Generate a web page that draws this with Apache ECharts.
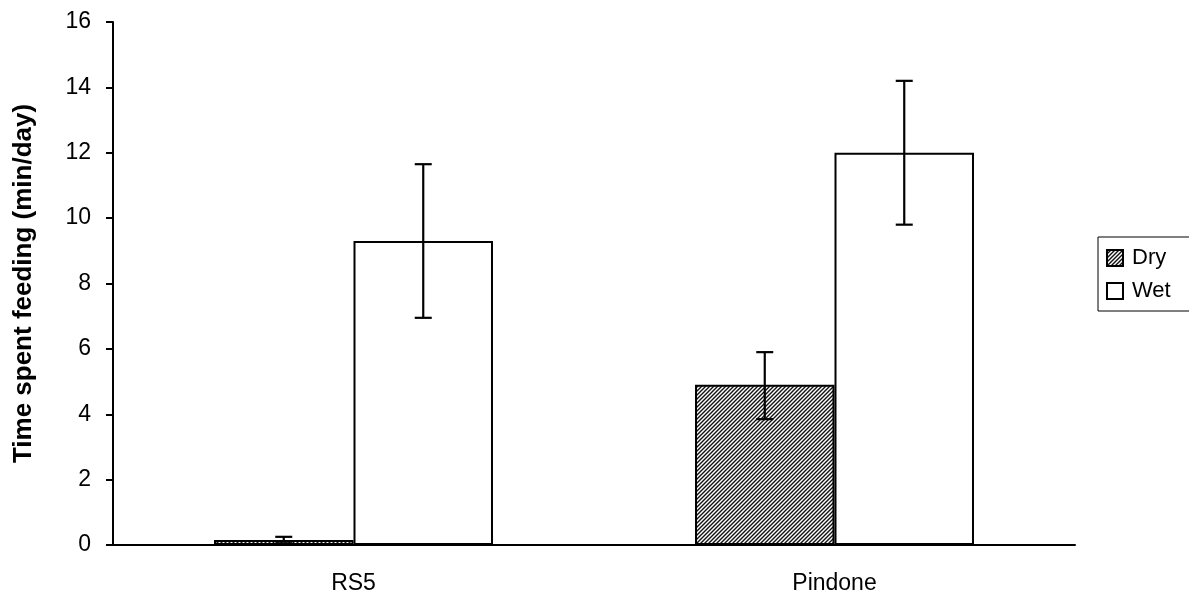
<!DOCTYPE html>
<html><head><meta charset="utf-8">
<script src="https://cdn.jsdelivr.net/npm/echarts@6/dist/echarts.min.js"></script>
<style>html,body{margin:0;padding:0;background:#fff}#c{width:1189px;height:598px}</style>
</head><body><div id="c"></div>
<script>
const categories = ['RS5', 'Pindone'];
const dryValues = [0.15, 4.9];
const wetValues = [9.3, 12.0];
const dryErrLow = [0.1, 3.85];
const dryErrHigh = [0.25, 5.9];
const wetErrLow = [6.95, 9.8];
const wetErrHigh = [11.65, 14.2];
const yTicks = [0, 2, 4, 6, 8, 10, 12, 14, 16];

const pc = document.createElement('canvas');
pc.width = 4; pc.height = 4;
const g = pc.getContext('2d');
g.fillStyle = '#fff'; g.fillRect(0, 0, 4, 4);
g.strokeStyle = '#111'; g.lineWidth = 1.4;
g.beginPath();
g.moveTo(-1, 5); g.lineTo(5, -1);
g.moveTo(-1, 1); g.lineTo(1, -1);
g.moveTo(3, 5); g.lineTo(5, 3);
g.stroke();
const hatch = { image: pc, repeat: 'repeat' };

const CAT_GAP = 0.42;
function errSeries(low, high, side) {
  return {
    type: 'custom',
    z: 10,
    data: categories.map((c, i) => [i, low[i], high[i]]),
    renderItem: function (params, api) {
      const catW = api.size([1, 0])[0];
      const bw = catW * (1 - CAT_GAP) / 2;
      const i = api.value(0);
      const p1 = api.coord([i, api.value(1)]);
      const p2 = api.coord([i, api.value(2)]);
      const x = p1[0] + side * bw / 2;
      const cap = 8.5;
      const st = { stroke: '#000', lineWidth: 2.2 };
      return { type: 'group', children: [
        { type: 'line', shape: { x1: x, y1: p1[1], x2: x, y2: p2[1] }, style: st },
        { type: 'line', shape: { x1: x - cap, y1: p1[1], x2: x + cap, y2: p1[1] }, style: st },
        { type: 'line', shape: { x1: x - cap, y1: p2[1], x2: x + cap, y2: p2[1] }, style: st }
      ]};
    },
    tooltip: { show: false }
  };
}

const FONT = 'Liberation Sans, Arial, sans-serif';
const chart = echarts.init(document.getElementById('c'));
chart.setOption({
  animation: false,
  textStyle: { fontFamily: FONT },
  grid: { left: 113, right: 114, top: 22, bottom: 53 },
  legend: {
    orient: 'vertical', left: 1098, top: 237,
    data: ['Dry', 'Wet'],
    itemWidth: 16, itemHeight: 16, itemGap: 11,
    icon: 'rect',
    borderColor: '#000', borderWidth: 1,
    padding: [10, 40, 9, 8],
    textStyle: { fontSize: 22, color: '#000', fontFamily: FONT, padding: [0, 0, 0, 4] }
  },
  xAxis: {
    type: 'category', data: categories,
    axisLine: { lineStyle: { color: '#000', width: 2 } },
    axisTick: { length: 8, lineStyle: { color: '#000', width: 2 } },
    axisLabel: { fontSize: 23, color: '#000', margin: 27 }
  },
  yAxis: {
    type: 'value', min: 0, max: 16, interval: 2,
    name: 'Time spent feeding (min/day)', nameLocation: 'middle', nameGap: 76,
    nameTextStyle: { fontSize: 26, fontWeight: 'bold', color: '#000' },
    axisLine: { show: true, lineStyle: { color: '#000', width: 2 } },
    axisTick: { show: true, length: 7, lineStyle: { color: '#000', width: 2 } },
    axisLabel: { fontSize: 23, color: '#000', margin: 22,
      formatter: v => yTicks.includes(v) ? String(v) : '' },
    splitLine: { show: false }
  },
  series: [
    { name: 'Dry', type: 'bar', data: dryValues, barGap: '0%', barCategoryGap: '42%',
      itemStyle: { color: hatch, borderColor: '#000', borderWidth: 2 } },
    { name: 'Wet', type: 'bar', data: wetValues, barGap: '0%', barCategoryGap: '42%',
      itemStyle: { color: '#fff', borderColor: '#000', borderWidth: 2 } },
    errSeries(dryErrLow, dryErrHigh, -1),
    errSeries(wetErrLow, wetErrHigh, 1)
  ]
});
</script></body></html>
